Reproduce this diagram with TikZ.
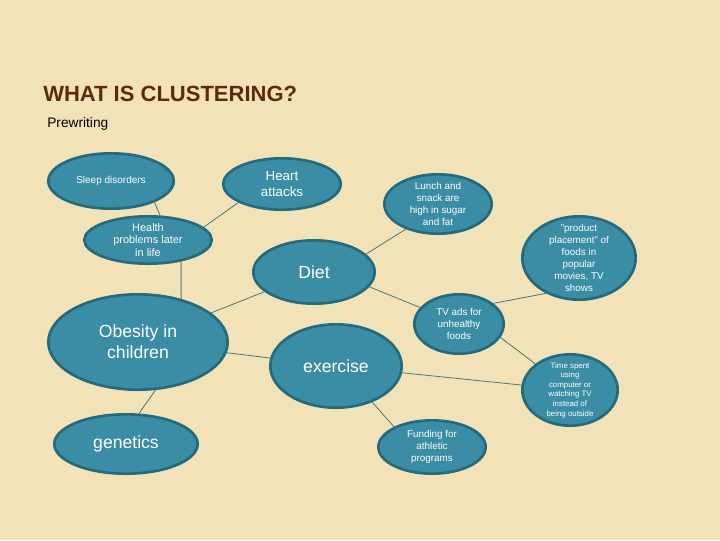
\documentclass[tikz,border=0pt]{standalone}
\usepackage{fontspec}
\setmainfont{Liberation Sans}
\usetikzlibrary{shapes.geometric}
\definecolor{bgc}{HTML}{F2E2B8}
\definecolor{bubfill}{HTML}{3A8DA5}
\definecolor{bubline}{HTML}{256A7C}
\definecolor{linkc}{HTML}{4A7670}
\definecolor{titlec}{HTML}{5B2A12}
\tikzset{
  bub/.style 2 args={ellipse, draw=bubline, fill=bubfill, line width=2pt, inner sep=0pt,
    minimum width=#1*1.5pt-2pt, minimum height=#2*1.5pt-2pt},
  txt/.style={text=white, align=center, inner sep=0pt},
  big/.style={txt, font=\fontsize{13.2pt}{15.8pt}\selectfont},
  mid/.style={txt, font=\fontsize{10pt}{12pt}\selectfont},
  hp/.style={txt, font=\fontsize{8.2pt}{9.5pt}\selectfont},
  sm/.style={txt, font=\fontsize{7.4pt}{9.1pt}\selectfont},
  tiny/.style={txt, font=\fontsize{5.9pt}{7.2pt}\selectfont},
  link/.style={draw=linkc, line width=0.6pt}
}
\begin{document}
\begin{tikzpicture}[x=0.75pt,y=-0.75pt]
\useasboundingbox[fill=bgc] (0,0) rectangle (720,540);
\node[anchor=base west, inner sep=0pt, text=titlec, font=\bfseries\fontsize{16.5pt}{19pt}\selectfont] (title) at (43,101) {WHAT IS CLUSTERING?};
\node[anchor=base west, inner sep=0pt, font=\fontsize{10.3pt}{12pt}\selectfont] (pre) at (47,127) {Prewriting};

\node[bub={64}{29}, label={[sm, font=\fontsize{7.5pt}{9pt}\selectfont]center:Sleep disorders}] (sleep) at (111,181) {};
\node[bub={60}{27}, label={[mid]center:Heart\\attacks}] (heart) at (282,184) {};
\node[bub={65}{25}, label={[hp]center:Health\\problems later\\in life}] (health) at (148,240) {};
\node[bub={62}{33}, label={[big]center:Diet}] (diet) at (314,272) {};
\node[bub={55}{31}, label={[sm]center:Lunch and\\snack are\\high in sugar\\and fat}] (lunch) at (438,204) {};
\node[bub={58}{43}, label={[sm]center:"product\\placement" of\\foods in\\popular\\movies, TV\\shows}] (product) at (579,258) {};
\node[bub={91}{49}, label={[big]center:Obesity in\\children}] (obesity) at (138,342) {};
\node[bub={67}{43}, label={[big]center:exercise}] (exercise) at (336,366) {};
\node[bub={73}{31}, label={[big]center:genetics}] (genetics) at (126,444) {};
\node[bub={46}{31}, label={[sm]center:TV ads for\\unhealthy\\foods}] (tv) at (459,324) {};
\node[bub={49}{37}, label={[tiny]center:Time spent\\using\\computer or\\watching TV\\instead of\\being outside}] (time) at (570,390) {};
\node[bub={55}{28}, label={[sm]center:Funding for\\athletic\\programs}] (funding) at (432,447) {};

\draw[link] (sleep.-26) -- (health.64);
\draw[link] (health.13) -- (heart.203);
\draw[link] (health.-33) -- (obesity.45);
\draw[link] (obesity) -- (diet);
\draw[link] (diet.19) -- (lunch.218);
\draw[link] (diet.-15) -- (tv.157);
\draw[link] (tv.31) -- (product.227);
\draw[link] (obesity) -- (exercise);
\draw[link] (obesity.-70) -- (genetics.67);
\draw[link] (exercise) -- (time);
\draw[link] (exercise.-45) -- (funding.152);
\draw[link] (tv.-18) -- (time.143);
\end{tikzpicture}
\end{document}
